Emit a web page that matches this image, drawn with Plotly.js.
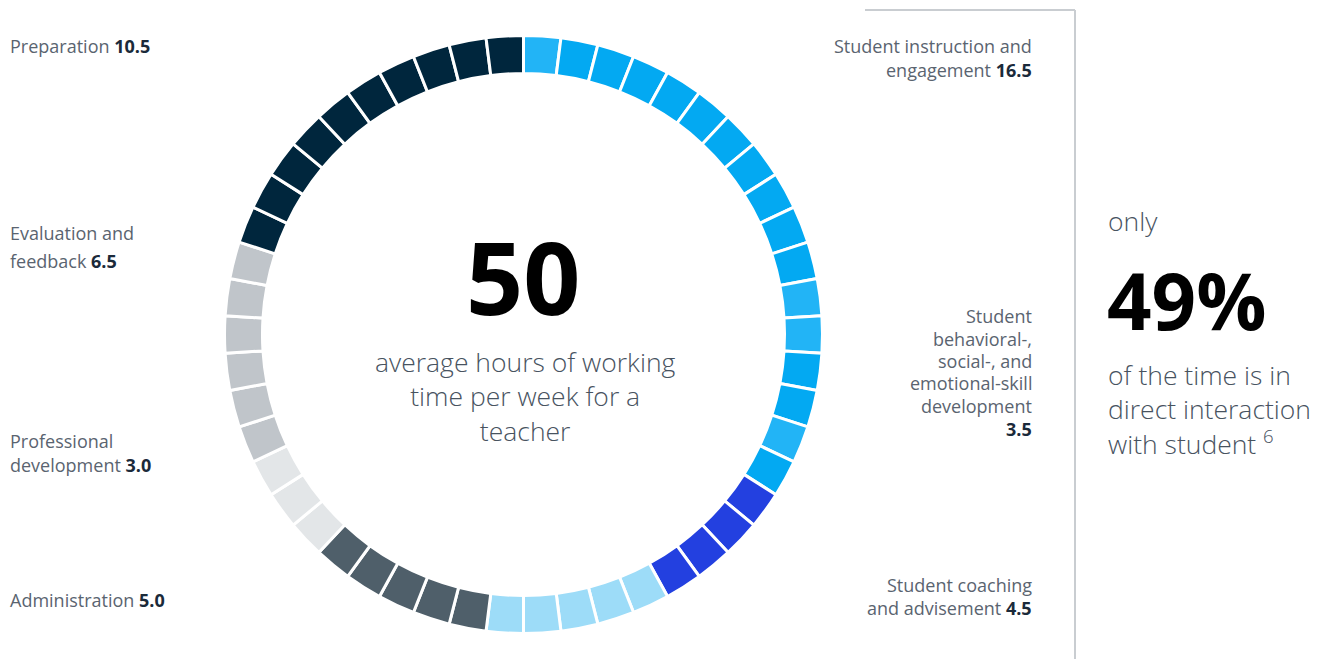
<!DOCTYPE html>
<html><head><meta charset="utf-8">
<script src="https://cdn.plot.ly/plotly-3.0.1.min.js"></script>
<style>html,body{margin:0;padding:0;background:#fff}#chart{width:1330px;height:659px}</style>
</head><body><div id="chart"></div>
<script>
// ---- data ----
const categories = ["Student instruction and engagement",
  "Student behavioral-, social-, and emotional-skill development",
  "Student coaching and advisement", "Administration",
  "Professional development", "Evaluation and feedback", "Preparation"];
const hours = [16.5, 3.5, 4.5, 5.0, 3.0, 6.5, 10.5];
const blocks = [17, 4, 5, 5, 3, 6, 10];      // hour blocks drawn in the ring
const totalHours = 50;
const directSharePct = 49;

// ---- styles ----
const catColors = ["#03a9f2", "#2340e0", "#9ddcf8", "#4f5f6a", "#e3e6e8", "#c0c5ca", "#00263d"];
const altShade = "#22b4f6";
const altShadeBlocks = [0, 11, 12, 15];        // lighter tinted blocks in first category

const W = 1330, H = 659;
const px = x => x / W, py = y => 1 - y / H;

// expand categories into one slice per hour block
const sliceLabels = [], sliceValues = [], sliceColors = [];
categories.forEach((c, i) => {
  for (let k = 0; k < blocks[i]; k++) {
    sliceLabels.push(c + " #" + (k + 1));
    sliceValues.push(1);
    sliceColors.push(i === 0 && altShadeBlocks.includes(k) ? altShade : catColors[i]);
  }
});

const cx = 523.5, cy = 334.5, R = 299;
const trace = {
  type: "pie", values: sliceValues, labels: sliceLabels, sort: false,
  direction: "clockwise", rotation: 0, hole: 0.873,
  marker: {colors: sliceColors, line: {color: "#ffffff", width: 3}},
  textinfo: "none", hoverinfo: "none", showlegend: false,
  domain: {x: [px(cx - R), px(cx + R)], y: [py(cy + R), py(cy - R)]}
};

const FAM = "Open Sans, sans-serif";
const labFont = {family: FAM, size: 18, color: "#5a6470"};
const numCol = "#1b2a3a";
const fmt = v => "<b><span style='color:" + numCol + "'>" + v.toFixed(1) + "</span></b>";

function ann(text, x, y, xa, align, font) {
  return {text, x: px(x), y: py(y), xref: "paper", yref: "paper", xanchor: xa,
          yanchor: "middle", align, showarrow: false, font};
}

// label lines: [lines, y of each line, side]
const labelBlocks = [
  [["Preparation " + fmt(hours[6])], [46], "L"],
  [["Evaluation and", "feedback " + fmt(hours[5])], [233, 261], "L"],
  [["Professional", "development " + fmt(hours[4])], [441, 465], "L"],
  [["Administration " + fmt(hours[3])], [600], "L"],
  [["Student instruction and", "engagement " + fmt(hours[0])], [46, 70], "R"],
  [["Student", "behavioral-,", "social-, and", "emotional-skill", "development", fmt(hours[1])],
   [316, 339, 361, 383, 406, 429], "R"],
  [["Student coaching", "and advisement " + fmt(hours[2])], [585, 608], "R"]
];

const annotations = [];
labelBlocks.forEach(([lines, ys, side]) => {
  lines.forEach((t, j) => {
    if (side === "L") annotations.push(ann(t, 8, ys[j], "left", "left", labFont));
    else annotations.push(ann(t, 1034, ys[j], "right", "right", labFont));
  });
});

const lightFont = {family: FAM, size: 26.5, color: "#48535f", weight: 300};
annotations.push(
  ann("<b>" + totalHours + "</b>", 523, 276, "center", "center", {family: FAM, size: 100, color: "#000000"}),
  ann("average hours of working<br>time per week for a<br>teacher", 525, 396, "center", "center", lightFont),
  ann("only", 1106, 221, "left", "left", lightFont),
  ann("<b>" + directSharePct + "%</b>", 1105, 300, "left", "left", {family: FAM, size: 78, color: "#000000"}),
  ann("of the time is in<br>direct interaction<br>with student <sup>6</sup>", 1106, 409, "left", "left", lightFont)
);

const shapes = [
  {type: "line", xref: "paper", yref: "paper", x0: px(1075), x1: px(1075), y0: py(10), y1: py(659), line: {color: "#c9cdd1", width: 2}},
  {type: "line", xref: "paper", yref: "paper", x0: px(865), x1: px(1075), y0: py(10), y1: py(10), line: {color: "#c9cdd1", width: 2}}
];

const layout = {width: W, height: H, margin: {l: 0, r: 0, t: 0, b: 0},
  paper_bgcolor: "#ffffff", plot_bgcolor: "#ffffff", showlegend: false,
  annotations, shapes};

Plotly.newPlot("chart", [trace], layout, {displayModeBar: false, staticPlot: true});
</script></body></html>
